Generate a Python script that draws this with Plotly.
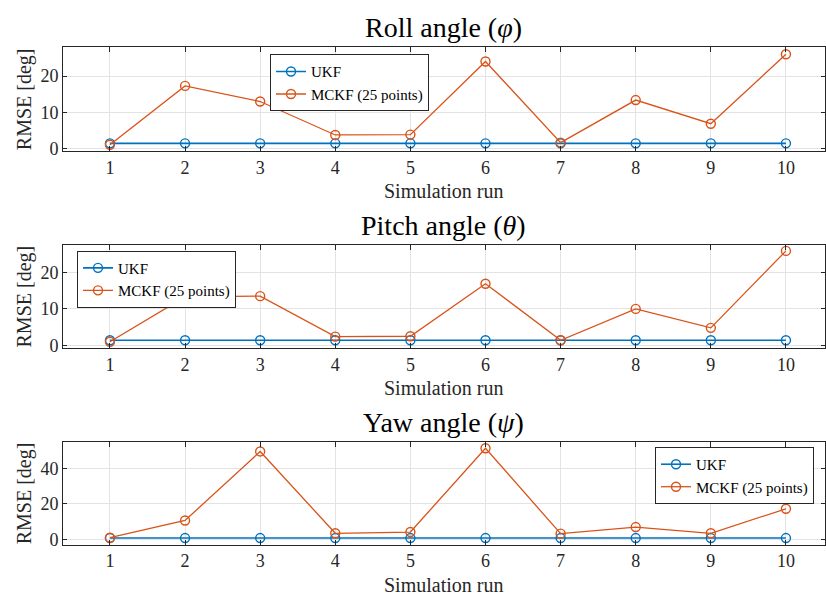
import plotly.graph_objects as go

# Simulation runs and per-run RMSE values [deg]
runs = [1, 2, 3, 4, 5, 6, 7, 8, 9, 10]

roll_ukf = [1.5, 1.5, 1.5, 1.5, 1.5, 1.5, 1.5, 1.5, 1.5, 1.5]
roll_mckf = [1.1, 17.3, 13.0, 3.8, 3.9, 24.0, 1.7, 13.4, 6.9, 26.0]

pitch_ukf = [1.4, 1.4, 1.4, 1.4, 1.4, 1.4, 1.4, 1.4, 1.4, 1.4]
pitch_mckf = [1.0, 13.3, 13.5, 2.4, 2.5, 16.9, 1.4, 10.0, 4.8, 25.9]

yaw_ukf = [0.8, 0.8, 0.8, 0.8, 0.8, 0.8, 0.8, 0.8, 0.8, 0.8]
yaw_mckf = [1.0, 10.7, 49.6, 3.5, 4.2, 51.4, 3.3, 7.0, 3.5, 17.3]

titles = ["Roll angle (<i>φ</i>)", "Pitch angle (<i>θ</i>)", "Yaw angle (<i>ψ</i>)"]
y_ticks = [[0, 10, 20], [0, 10, 20], [0, 20, 40]]
y_ranges = [[-0.6, 27.9], [-0.8, 27.6], [-2.9, 54.9]]

UKF_COLOR = "#0072BD"
MCKF_COLOR = "#D95319"
AXIS_COLOR = "#262626"
GRID_COLOR = "#e3e3e3"
FONT = "Liberation Serif, serif"

W, H = 826, 600
# panel boxes in pixels: (top, bottom)
panels = [(48, 153), (248, 353), (448, 552)]
x_left, x_right = 63, 825

series = [(roll_ukf, roll_mckf), (pitch_ukf, pitch_mckf), (yaw_ukf, yaw_mckf)]
legend_pos = [(270, 55), (77, 254), (655, 453)]

fig = go.Figure()
layout = dict(
    width=W, height=H,
    margin=dict(l=0, r=0, t=0, b=0),
    paper_bgcolor="white", plot_bgcolor="white",
    font=dict(family=FONT, color=AXIS_COLOR, size=17),
    showlegend=True,
    annotations=[],
)

for i, ((ukf, mckf), (top, bot)) in enumerate(zip(series, panels)):
    n = i + 1
    xa = "x" if n == 1 else f"x{n}"
    ya = "y" if n == 1 else f"y{n}"
    lg = "legend" if n == 1 else f"legend{n}"
    fig.add_trace(go.Scatter(
        x=runs, y=ukf, mode="lines+markers", name="UKF",
        line=dict(color=UKF_COLOR, width=1.6),
        marker=dict(symbol="circle-open", size=9, color=UKF_COLOR, line=dict(width=1.4)),
        xaxis=xa, yaxis=ya, legend=lg,
    ))
    fig.add_trace(go.Scatter(
        x=runs, y=mckf, mode="lines+markers", name="MCKF (25 points)",
        line=dict(color=MCKF_COLOR, width=1.3),
        marker=dict(symbol="circle-open", size=9, color=MCKF_COLOR, line=dict(width=1.4)),
        xaxis=xa, yaxis=ya, legend=lg,
    ))

    dom_y = [1 - bot / H, 1 - top / H]
    axis_common = dict(
        showline=True, linecolor=AXIS_COLOR, linewidth=1, mirror="ticks",
        ticks="inside", tickcolor=AXIS_COLOR, ticklen=5,
        showgrid=True, gridcolor=GRID_COLOR, gridwidth=1,
        zeroline=False, tickfont=dict(family=FONT, size=18, color=AXIS_COLOR),
    )
    layout[f"xaxis{'' if n == 1 else n}"] = dict(
        axis_common, domain=[x_left / W, x_right / W], range=[0.375, 10.52],
        tickvals=runs, anchor=ya,
    )
    layout[f"yaxis{'' if n == 1 else n}"] = dict(
        axis_common, domain=dom_y, range=y_ranges[i],
        tickvals=y_ticks[i], anchor=xa, ticklen=4,
    )
    lx, ly = legend_pos[i]
    layout[lg] = dict(
        x=lx / W, y=1 - ly / H, xanchor="left", yanchor="top",
        bgcolor="white", bordercolor=AXIS_COLOR, borderwidth=1,
        font=dict(family=FONT, size=15, color="black"),
        tracegroupgap=0, itemwidth=30,
    )
    cx = (x_left + x_right) / 2 / W
    layout["annotations"].append(dict(
        text=titles[i], x=cx, y=dom_y[1], xref="paper", yref="paper",
        xanchor="center", yanchor="bottom", yshift=2, showarrow=False,
        font=dict(family=FONT, size=28, color="black"),
    ))
    layout["annotations"].append(dict(
        text="Simulation run", x=cx, y=dom_y[0], xref="paper", yref="paper",
        xanchor="center", yanchor="top", yshift=-27, showarrow=False,
        font=dict(family=FONT, size=20, color=AXIS_COLOR),
    ))
    layout["annotations"].append(dict(
        text="RMSE [deg]", x=24 / W, y=(dom_y[0] + dom_y[1]) / 2,
        xref="paper", yref="paper", xanchor="center", yanchor="middle",
        textangle=-90, showarrow=False,
        font=dict(family=FONT, size=20, color=AXIS_COLOR),
    ))

fig.update_layout(**layout)
fig.write_html("out.html")
